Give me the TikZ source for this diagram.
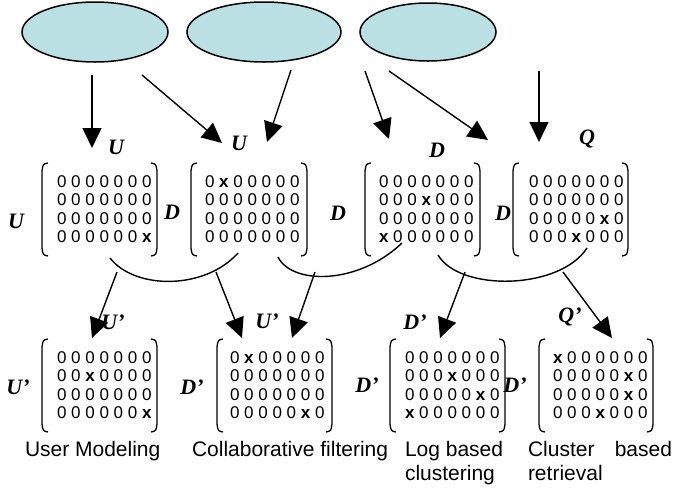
\documentclass[tikz,border=0pt]{standalone}
\usepackage{fontspec}
\setmainfont{Liberation Sans}
\newfontfamily\lblfont{Liberation Serif}
\usetikzlibrary{arrows.meta,shapes.geometric}
\definecolor{ellfill}{RGB}{187,224,228}

% four left-aligned rows of a 0/x matrix: name, x of text, first baseline, rows
\newcommand{\mtxrows}[7]{%
  \node[mrow] (#1-1) at (#2,#3) {#4};
  \node[mrow] (#1-2) at (#2,{#3+18.5}) {#5};
  \node[mrow] (#1-3) at (#2,{#3+37}) {#6};
  \node[mrow] (#1-4) at (#2,{#3+55.5}) {#7};}
% a pair of round-cornered brackets: left x, right x, top y, bottom y
\newcommand{\mbrack}[4]{%
  \draw[brk] ({#1+6},#3) .. controls ({#1+1},{#3+1}) .. (#1,{#3+8})
     -- (#1,{#4-8}) .. controls ({#1+1},{#4-1}) .. ({#1+6},#4);
  \draw[brk] ({#2-6},#3) .. controls ({#2-1},{#3+1}) .. (#2,{#3+8})
     -- (#2,{#4-8}) .. controls ({#2-1},{#4-1}) .. ({#2-6},#4);}
\newcommand{\X}{\textbf{x}}

\begin{document}
\begin{tikzpicture}[x=1pt,y=-1pt,
  every node/.style={inner sep=0pt,outer sep=0pt},
  oval/.style={ellipse,draw=black,line width=1.5pt,fill=ellfill},
  mrow/.style={anchor=base west,font=\fontsize{17}{17}\selectfont},
  lbl/.style={font=\lblfont\fontsize{22}{22}\selectfont\bfseries\itshape},
  captxt/.style={font=\fontsize{21}{24}\selectfont},
  brk/.style={line width=1.3pt},
  joinarc/.style={line width=1.4pt},
  arr/.style={line width=1.4pt,-{Triangle[length=20pt,width=19pt]}}]
\useasboundingbox (0,0) rectangle (673,488);

% source ovals
\node[oval,minimum width=146pt,minimum height=60pt] (e1) at (95,32) {};
\node[oval,minimum width=154pt,minimum height=60pt] (e2) at (264,32) {};
\node[oval,minimum width=136pt,minimum height=58pt] (e3) at (428,32) {};

% arrows from the ovals to the upper matrices
\coordinate (a1s) at (92,75);   \coordinate (a1t) at (92,148);
\coordinate (a2s) at (142,75);  \coordinate (a2t) at (222,143);
\coordinate (a3s) at (291,70);  \coordinate (a3t) at (267,142);
\coordinate (a4s) at (365,71);  \coordinate (a4t) at (389,139);
\coordinate (a5s) at (389,71);  \coordinate (a5t) at (488,140);
\coordinate (a6s) at (539,71);  \coordinate (a6t) at (539,142);
\foreach \i in {1,...,6} \draw[arr] (a\i s) -- (a\i t);

% upper matrices
\mbrack{42}{157}{163}{256}
\mtxrows{m1}{57}{187}{0 0 0 0 0 0 0}{0 0 0 0 0 0 0}{0 0 0 0 0 0 0}{0 0 0 0 0 0 \X}
\mbrack{191}{307}{163}{256}
\mtxrows{m2}{205}{187}{0 \X\ 0 0 0 0 0}{0 0 0 0 0 0 0}{0 0 0 0 0 0 0}{0 0 0 0 0 0 0}
\mbrack{365}{480}{163}{256}
\mtxrows{m3}{379}{187}{0 0 0 0 0 0 0}{0 0 0 \X\ 0 0 0}{0 0 0 0 0 0 0}{\X\ 0 0 0 0 0 0}
\mbrack{513}{628}{163}{256}
\mtxrows{m4}{529}{187}{0 0 0 0 0 0 0}{0 0 0 0 0 0 0}{0 0 0 0 0 \X\ 0}{0 0 0 \X\ 0 0 0}

% upper labels
\node[lbl] (lu1) at (116,147) {U};
\node[lbl] (lu2) at (239,143) {U};
\node[lbl] (ld1) at (437,150) {D};
\node[lbl] (lq1) at (587,139) {Q};
\node[lbl] (su1) at (16,221) {U};
\node[lbl] (sd1) at (172,212) {D};
\node[lbl] (sd2) at (338,213) {D};
\node[lbl] (sd3) at (503,213) {D};

% joining arcs below the upper matrices
\draw[joinarc] (110,258) .. controls (135,290) and (205,290) .. (238,253);
\draw[joinarc] (278,257) .. controls (292,285) and (358,285) .. (402,243);
\draw[joinarc] (438,255) .. controls (460,292) and (560,290) .. (587,248);

% arrows from the arcs to the lower matrices
\coordinate (b1s) at (117,272); \coordinate (b1t) at (92,338);
\coordinate (b2s) at (216,272); \coordinate (b2t) at (242,338);
\coordinate (b3s) at (315,272); \coordinate (b3t) at (292,338);
\coordinate (b4s) at (465,272); \coordinate (b4t) at (440,338);
\coordinate (b5s) at (563,272); \coordinate (b5t) at (612,338);
\foreach \i in {1,...,5} \draw[arr] (b\i s) -- (b\i t);

% lower matrices
\mbrack{42}{157}{339}{432}
\mtxrows{m5}{57}{363}{0 0 0 0 0 0 0}{0 0 \X\ 0 0 0 0}{0 0 0 0 0 0 0}{0 0 0 0 0 0 \X}
\mbrack{217}{332}{339}{432}
\mtxrows{m6}{230}{363}{0 \X\ 0 0 0 0 0}{0 0 0 0 0 0 0}{0 0 0 0 0 0 0}{0 0 0 0 0 \X\ 0}
\mbrack{390}{505}{339}{432}
\mtxrows{m7}{405}{363}{0 0 0 0 0 0 0}{0 0 0 \X\ 0 0 0}{0 0 0 0 0 \X\ 0}{\X\ 0 0 0 0 0 0}
\mbrack{539}{653}{339}{432}
\mtxrows{m8}{553}{363}{\X\ 0 0 0 0 0 0}{0 0 0 0 0 \X\ 0}{0 0 0 0 0 \X\ 0}{0 0 0 \X\ 0 0 0}

% lower labels
\node[lbl] (lu3) at (113,322) {U’};
\node[lbl] (lu4) at (267,321) {U’};
\node[lbl] (ld2) at (415,322) {D’};
\node[lbl] (lq2) at (570,317) {Q’};
\node[lbl] (su2) at (18,387) {U’};
\node[lbl] (sd4) at (192,387) {D’};
\node[lbl] (sd5) at (367,385) {D’};
\node[lbl] (sd6) at (515,385) {D’};

% captions
\node[captxt,anchor=base west] (c1) at (25,456) {User Modeling};
\node[captxt,anchor=base west] (c2) at (192,456) {Collaborative filtering};
\node[captxt,anchor=base west] (c3a) at (405,456) {Log based};
\node[captxt,anchor=base west] (c3b) at (405,480) {clustering};
\node[captxt,anchor=base west] (c4a) at (528,456) {Cluster};
\node[captxt,anchor=base east] (c4b) at (672,456) {based};
\node[captxt,anchor=base west] (c4c) at (528,480) {retrieval};
\end{tikzpicture}
\end{document}
